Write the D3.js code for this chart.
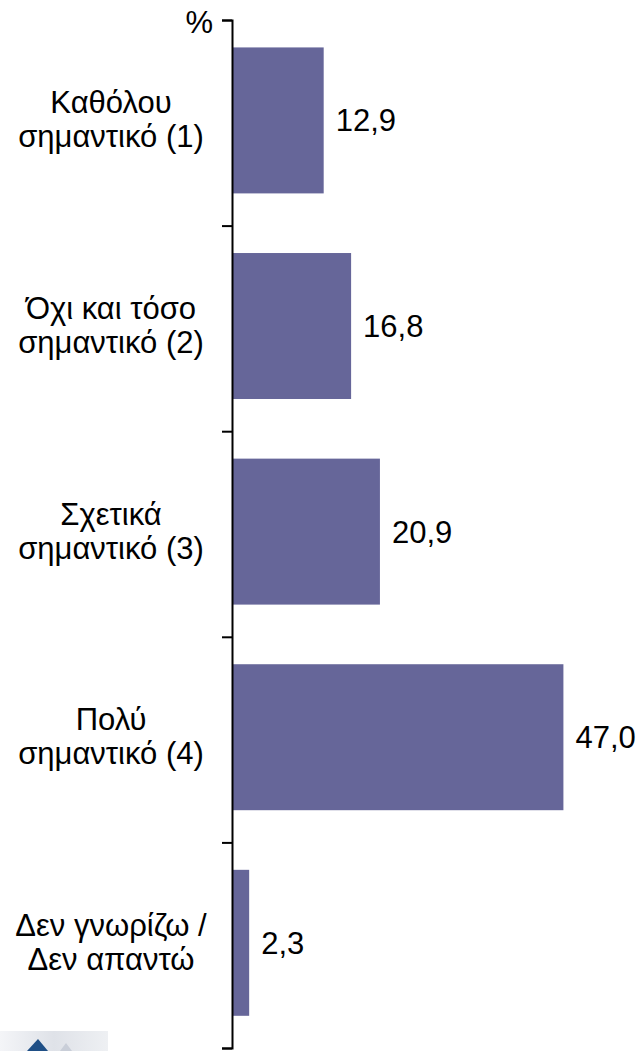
<!DOCTYPE html>
<html>
<head>
<meta charset="utf-8">
<script src="https://cdn.jsdelivr.net/npm/d3@7"></script>
<style>
  html, body { margin: 0; padding: 0; background: #ffffff; }
  svg { display: block; }
  text { font-family: "Liberation Sans", Arial, sans-serif; fill: #000; }
</style>
</head>
<body>
<svg id="chart" width="642" height="1051"></svg>
<script>
const categories = [
  ["Καθόλου", "σημαντικό (1)"],
  ["Όχι και τόσο", "σημαντικό (2)"],
  ["Σχετικά", "σημαντικό (3)"],
  ["Πολύ", "σημαντικό (4)"],
  ["Δεν γνωρίζω /", "Δεν απαντώ"]
];
const values = [12.9, 16.8, 20.9, 47.0, 2.3];
const valueLabels = ["12,9", "16,8", "20,9", "47,0", "2,3"];
const unitLabel = "%";

const svg = d3.select("#chart");
const fontSize = 31;

const keys = categories.map((c, i) => i);
const y = d3.scaleBand().domain(keys).range([20, 1048])
  .paddingInner(0.29).paddingOuter(0.145).align(0.46);
const x = d3.scaleLinear().domain([0, 50]).range([233, 584.5]);

// logo fragment bottom-left
const defs = svg.append("defs");
const lg = defs.append("linearGradient").attr("id", "logoGrad").attr("x1", "0").attr("x2", "1").attr("y1", "0").attr("y2", "0");
lg.append("stop").attr("offset", "0").attr("stop-color", "#f4f5f8");
lg.append("stop").attr("offset", "0.5").attr("stop-color", "#dfe2e8");
lg.append("stop").attr("offset", "1").attr("stop-color", "#eef0f3");
svg.append("rect").attr("x", 0).attr("y", 1031).attr("width", 108).attr("height", 20).attr("fill", "url(#logoGrad)");
svg.append("path").attr("d", "M27,1051 L38,1039 L48,1051 Z").attr("fill", "#1f4f86");
svg.append("path").attr("d", "M60,1051 L66,1043 L72,1051 Z").attr("fill", "#c9ced8");

// bars
svg.append("g").selectAll("rect.bar").data(values).join("rect")
  .attr("class", "bar")
  .attr("x", x(0))
  .attr("y", (d, i) => y(i))
  .attr("width", d => x(d) - x(0))
  .attr("height", y.bandwidth())
  .attr("fill", "#666699");

// axis (ticks at band boundaries)
const yb = d3.scaleLinear().domain([0, keys.length]).range([20, 1048]);
const axis = d3.axisLeft(yb).tickValues(d3.range(0, keys.length + 1)).tickSize(10).tickSizeOuter(10).tickFormat("");
const ag = svg.append("g").attr("transform", "translate(232,0)").call(axis);
ag.selectAll("path, line").attr("stroke", "#000").attr("stroke-width", 2);

// unit label
svg.append("text").attr("x", 213).attr("y", 33).attr("text-anchor", "end")
  .attr("font-size", fontSize).text(unitLabel);

// category labels
const cl = svg.append("g").selectAll("text.cat").data(categories).join("text")
  .attr("class", "cat")
  .attr("text-anchor", "middle")
  .attr("font-size", fontSize);
cl.each(function(d, i) {
  const c = y(i) + y.bandwidth() / 2;
  const t = d3.select(this);
  t.append("tspan").attr("x", 111).attr("y", c - 7).text(d[0]);
  t.append("tspan").attr("x", 111).attr("y", c + 27).text(d[1]);
});

// value labels
svg.append("g").selectAll("text.val").data(values).join("text")
  .attr("class", "val")
  .attr("x", d => x(d) + 12)
  .attr("y", (d, i) => y(i) + y.bandwidth() / 2 + 11)
  .attr("font-size", fontSize)
  .text((d, i) => valueLabels[i]);
</script>
</body>
</html>
